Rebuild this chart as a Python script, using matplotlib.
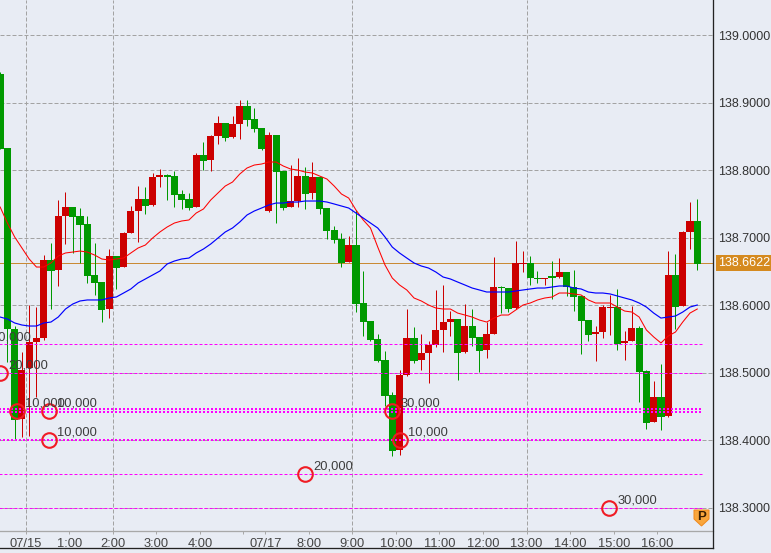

# USD/JPY 10 minute candles with two moving averages and order levels
import numpy as np
from matplotlib import pyplot as plt
from matplotlib.lines import Line2D
from matplotlib.patches import Polygon
from matplotlib.transforms import Affine2D

opens = [138.9423,138.8327,138.5645,138.4312,138.5067,138.5452,138.5512,138.6667,138.6519,138.7319,138.7452,138.7319,138.7201,138.6445,138.6341,138.5941,138.6726,138.6563,138.7068,138.7393,138.7571,138.7482,138.7896,138.7926,138.7911,138.7645,138.7571,138.7452,138.8223,138.8149,138.8504,138.8697,138.8489,138.8682,138.8948,138.8756,138.8623,138.7393,138.8519,138.7985,138.7452,138.7541,138.7911,138.7660,138.7896,138.7437,138.7112,138.6978,138.6637,138.6889,138.6030,138.5763,138.5497,138.5186,138.4667,138.3852,138.4963,138.5512,138.5186,138.5290,138.5408,138.5630,138.5748,138.5793,138.5304,138.5689,138.5527,138.5334,138.5571,138.6267,138.6252,138.5956,138.6608,138.6623,138.6400,138.6385,138.6430,138.6415,138.6489,138.6267,138.6134,138.5778,138.5571,138.5600,138.5956,138.5970,138.5438,138.5467,138.5660,138.5022,138.4267,138.4637,138.4356,138.6445,138.5985,138.7082,138.7245]
highs = [138.9452,138.8327,138.5689,138.5304,138.6000,138.5970,138.6741,138.6919,138.7556,138.7674,138.7452,138.7437,138.7319,138.6919,138.6341,138.6830,138.6726,138.7082,138.7467,138.7763,138.7748,138.7956,138.8015,138.7941,138.7985,138.7704,138.7660,138.8252,138.8415,138.8519,138.8800,138.8697,138.8800,138.9037,138.9037,138.8919,138.8623,138.8563,138.8519,138.7985,138.8074,138.8178,138.8045,138.8119,138.7896,138.7437,138.7171,138.7067,138.7022,138.7408,138.6504,138.5763,138.5571,138.5319,138.4711,138.5037,138.5941,138.5674,138.5571,138.5467,138.6223,138.6297,138.5911,138.5793,138.6015,138.5941,138.5527,138.5748,138.6711,138.6282,138.6252,138.6948,138.6800,138.6726,138.6504,138.6400,138.6652,138.6696,138.6489,138.6519,138.6134,138.5778,138.5689,138.6000,138.6149,138.6238,138.5615,138.5985,138.5689,138.5037,138.4874,138.5126,138.6800,138.6756,138.7097,138.7526,138.7571]
lows = [138.8312,138.5156,138.4000,138.4044,138.4059,138.4637,138.5482,138.5941,138.6282,138.6904,138.6771,138.6623,138.6327,138.6149,138.5748,138.5807,138.6238,138.6563,138.7068,138.6933,138.7349,138.7467,138.7748,138.7556,138.7452,138.7423,138.7408,138.7452,138.8000,138.7985,138.8386,138.8430,138.8475,138.8460,138.8652,138.8563,138.8297,138.7378,138.7215,138.7408,138.7452,138.7452,138.7423,138.7571,138.7349,138.6978,138.6919,138.6563,138.6637,138.5896,138.5541,138.5467,138.5156,138.4504,138.3763,138.3778,138.4948,138.5141,138.5037,138.4845,138.5378,138.5304,138.5541,138.4889,138.5290,138.5393,138.5008,138.5215,138.5571,138.5881,138.5896,138.5941,138.6489,138.6297,138.6327,138.6297,138.6089,138.6400,138.6134,138.5911,138.5275,138.5467,138.5171,138.5512,138.5556,138.5334,138.5186,138.5467,138.4563,138.4163,138.4267,138.4148,138.4341,138.5645,138.5985,138.6830,138.6519]
closes = [138.8312,138.5645,138.4297,138.5037,138.5452,138.5512,138.6667,138.6504,138.7319,138.7452,138.7304,138.7186,138.6430,138.6327,138.5926,138.6726,138.6548,138.7068,138.7393,138.7571,138.7467,138.7896,138.7926,138.7896,138.7630,138.7556,138.7437,138.8223,138.8134,138.8504,138.8697,138.8475,138.8682,138.8948,138.8741,138.8608,138.8312,138.8519,138.7970,138.7437,138.7541,138.7911,138.7645,138.7896,138.7423,138.7097,138.6963,138.6623,138.6889,138.6015,138.5748,138.5482,138.5171,138.4652,138.3837,138.4963,138.5512,138.5171,138.5290,138.5408,138.5630,138.5748,138.5793,138.5290,138.5689,138.5512,138.5319,138.5571,138.6267,138.6252,138.5941,138.6623,138.6623,138.6400,138.6385,138.6400,138.6400,138.6489,138.6267,138.6119,138.5763,138.5556,138.5600,138.5970,138.5970,138.5423,138.5467,138.5660,138.5008,138.4252,138.4637,138.4341,138.6445,138.5970,138.7082,138.7245,138.6608]

ma_fast = [138.7452,138.7215,138.7008,138.6845,138.6682,138.6563,138.6563,138.6623,138.6726,138.6771,138.6785,138.6800,138.6785,138.6741,138.6682,138.6667,138.6682,138.6696,138.6771,138.6845,138.6889,138.6993,138.7082,138.7156,138.7215,138.7245,138.7260,138.7363,138.7423,138.7556,138.7660,138.7763,138.7822,138.7941,138.8030,
           138.8074,138.8089,138.8119,138.8119,138.8059,138.8015,138.8000,138.7970,138.7956,138.7911,138.7867,138.7763,138.7645,138.7585,138.7408,138.7260,138.7141,138.6859,138.6593,138.6400,138.6297,138.6223,138.6104,138.6060,138.6000,138.5956,138.5941,138.5941,138.5881,138.5852,138.5822,138.5778,138.5748,138.5807,138.5852,138.5852,138.5926,138.6000,138.6030,138.6075,138.6104,138.6119,138.6178,138.6178,138.6164,138.6149,138.6075,138.6030,138.6030,138.6030,138.5970,138.5911,138.5896,138.5822,138.5630,138.5527,138.5438,138.5541,138.5600,138.5748,138.5881,138.5941]
ma_slow = [138.5822,138.5793,138.5734,138.5704,138.5689,138.5689,138.5734,138.5748,138.5822,138.5941,138.6015,138.6060,138.6075,138.6075,138.6075,138.6104,138.6119,138.6178,138.6238,138.6327,138.6386,138.6445,138.6504,138.6608,138.6652,138.6682,138.6696,138.6771,138.6830,138.6904,138.6993,138.7082,138.7141,138.7230,138.7334,
           138.7393,138.7437,138.7482,138.7511,138.7511,138.7526,138.7526,138.7541,138.7541,138.7541,138.7526,138.7497,138.7467,138.7437,138.7363,138.7289,138.7215,138.7141,138.7008,138.6859,138.6771,138.6696,138.6623,138.6578,138.6548,138.6489,138.6415,138.6386,138.6341,138.6297,138.6252,138.6223,138.6193,138.6193,138.6193,138.6193,138.6208,138.6223,138.6238,138.6252,138.6252,138.6267,138.6282,138.6282,138.6252,138.6238,138.6193,138.6178,138.6178,138.6164,138.6134,138.6104,138.6075,138.6030,138.5970,138.5881,138.5807,138.5822,138.5837,138.5896,138.5970,138.6000]

price_ticks = [138.3, 138.4, 138.5, 138.6, 138.7, 138.8, 138.9, 139.0]
last_price = 138.6622

time_ticks = [3.5, 9.5, 15.5, 21.5, 27.5, 33.5, 36.5, 42.5, 48.5, 54.5, 60.5, 66.5, 72.5, 78.5, 84.5, 90.5]
time_labels = ['07/15', '1:00', '2:00', '3:00', '4:00', '', '07/17', '8:00', '9:00', '10:00', '11:00', '12:00', '13:00', '14:00', '15:00', '16:00']
grid_times = [3.5, 15.5, 48.5, 72.5]

# order levels and the clusters sitting on them
thin_levels = [138.5420, 138.5000, 138.3500, 138.3000]
thick_levels = [138.4460, 138.4415, 138.4000]
order_pos = [-2.3, 0.0, 2.3, 6.75, 6.75, 42.0, 54.0, 55.1, 83.85]
order_price = [138.5420, 138.5000, 138.4430, 138.4430, 138.4000, 138.3500, 138.4430, 138.4000, 138.3000]
order_text = ['10,000', '20,000', '10,000', '10,000', '10,000', '20,000', '30,000', '10,000', '30,000']

BG = '#E8ECF4'
UP = '#CC0000'
DOWN = '#009900'
PX = 0.72  # one pixel in points at dpi 100

plt.rcParams['font.family'] = ['Liberation Sans', 'DejaVu Sans']
plt.rcParams['font.size'] = 9

fig = plt.figure(figsize=(7.71, 5.53), dpi=100, facecolor=BG)
ax = fig.add_axes([0, 1 - 531 / 553, 712.5 / 771, 531 / 553], facecolor=BG)

k = np.arange(len(opens))
o = np.array(opens)
c = np.array(closes)
colors = [UP if b > a else DOWN for a, b in zip(o, c)]

# background grid
for p in price_ticks:
    ax.axhline(p, color='#a3a3a3', lw=PX, ls=(0, (4, 2)), zorder=1)
for t in grid_times:
    ax.axvline(t, color='#a3a3a3', lw=PX, ls=(0, (4, 2)), zorder=1)
ax.axhline(last_price, color='#C98A35', lw=PX, zorder=2)

# candles
ax.vlines(k, lows, highs, colors=colors, lw=PX, zorder=3)
ax.bar(k, np.abs(c - o), bottom=np.minimum(o, c), width=0.98, color=colors, lw=0, zorder=4)

ax.plot(k, ma_fast, color='#FF0000', lw=0.75, zorder=5)
ax.plot(k, ma_slow, color='#0000FF', lw=0.85, zorder=5)

# levels stop a little before the price axis
for p in thin_levels:
    ax.plot([-1, 96.6], [p, p], color='#FF00FF', lw=PX, ls=(0, (3, 2)), zorder=6, snap=True)
for p in thick_levels:
    ax.plot([-1, 96.6], [p, p], color='#FF00FF', lw=PX * 2, ls=(0, (1, 1)), zorder=6, snap=True)

ax.plot(order_pos, order_price, ls='none', marker='o', ms=10.5, mfc='none', mec='#F01C24', mew=1.5, zorder=7)
for x, p, s in zip(order_pos, order_price, order_text):
    ax.annotate(s, (x, p), xytext=(5.8, 0.8), textcoords='offset points', color='#3c3c3c',
                fontsize=9.3, va='bottom', ha='left', zorder=8, annotation_clip=False)

ax.set_xlim(-0.02, 712.5 / 7.263)
ax.set_ylim(139.0519 - 531 * 0.0014815, 139.0519)

for side in ['top', 'left', 'right']:
    ax.spines[side].set_visible(False)
ax.spines['bottom'].set_color('#a8a8a8')
ax.spines['bottom'].set_linewidth(PX * 1.3)

ax.set_xticks(time_ticks)
ax.set_xticklabels(time_labels, color='#444444', fontsize=9.3)
ax.tick_params(axis='x', length=2.5, width=PX, color='#a8a8a8', pad=2.5)
ax.yaxis.tick_right()
ax.set_yticks(price_ticks)
ax.set_yticklabels([f'{p:.4f}' for p in price_ticks], color='#333333', fontsize=9)
ax.tick_params(axis='y', length=0, pad=4)

ax.text(718 / 712.5, last_price, f'{last_price:.4f}', transform=ax.get_yaxis_transform(), color='white',
        fontsize=9, va='center', ha='left', clip_on=False, zorder=9,
        bbox=dict(boxstyle='square,pad=0.13', fc='#D58A1F', ec='none'))

# frame and the small P badge, in pixels from the top left
px = Affine2D().scale(1 / 771, -1 / 553).translate(0, 1) + fig.transFigure
fig.add_artist(Line2D([712.5, 712.5], [0, 548], color='#222222', lw=PX * 1.3, transform=px))
fig.add_artist(Line2D([0, 712.5], [548, 548], color='#222222', lw=PX * 1.3, transform=px))
fig.add_artist(Polygon([(694, 510), (709, 510), (709, 519), (701.5, 526), (694, 519)],
                       closed=True, fc='#F9A63C', ec='#F08A1E', lw=PX, transform=px))
fig.text(701.5 / 771, 1 - 516.5 / 553, 'P', color='#3A1E00', fontsize=9.5, fontweight='bold', ha='center', va='center')

fig.savefig('out.png', dpi=100, facecolor=BG)
